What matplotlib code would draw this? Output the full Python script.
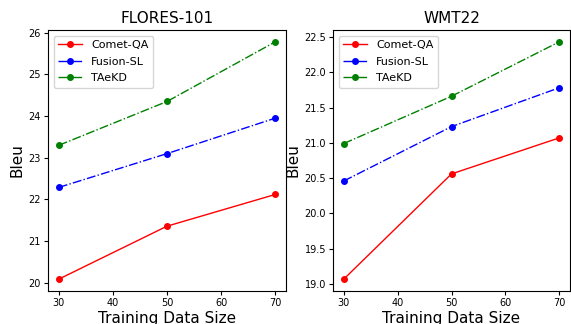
import numpy as np
import matplotlib.pyplot as plt

sizes = [30, 50, 70]

flores_comet = [20.09, 21.36, 22.12]
flores_fusion = [22.29, 23.10, 23.95]
flores_taekd = [23.30, 24.35, 25.78]

wmt_comet = [19.07, 20.56, 21.07]
wmt_fusion = [20.46, 21.23, 21.78]
wmt_taekd = [20.99, 21.66, 22.43]

fig = plt.figure(figsize=(5.71, 3.24), dpi=100)
ax1 = fig.add_axes([48 / 571, 1 - 291 / 324, 238 / 571, 261 / 324])
ax2 = fig.add_axes([333 / 571, 1 - 291 / 324, 237 / 571, 261 / 324])

panels = [
    (ax1, "FLORES-101", flores_comet, flores_fusion, flores_taekd),
    (ax2, "WMT22", wmt_comet, wmt_fusion, wmt_taekd),
]

for ax, title, comet, fusion, taekd in panels:
    ax.plot(sizes, comet, color="red", marker="o", markersize=4, linewidth=1, linestyle="-", label="Comet-QA")
    ax.plot(sizes, fusion, color="blue", marker="o", markersize=4, linewidth=1, linestyle="-.", label="Fusion-SL")
    ax.plot(sizes, taekd, color="green", marker="o", markersize=4, linewidth=1, linestyle="-.", label="TAeKD")
    ax.set_title(title, fontsize=11, pad=5)
    ax.set_xlabel("Training Data Size", fontsize=11, labelpad=2)
    ax.set_ylabel("Bleu", fontsize=11, labelpad=3)
    ax.tick_params(axis="both", labelsize=7, length=3, pad=2)
    ax.set_xticks([30, 40, 50, 60, 70])
    ax.legend(loc="upper left", fontsize=8, handlelength=2.2, labelspacing=0.6, borderaxespad=0.5)

fig.savefig("out.png", dpi=100)
